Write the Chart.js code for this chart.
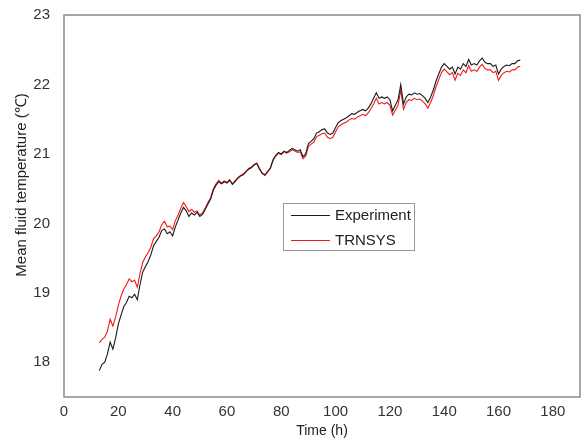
<!DOCTYPE html>
<html>
<head>
<meta charset="utf-8">
<script src="https://cdn.jsdelivr.net/npm/chart.js@4"></script>
<style>
  html, body { margin: 0; padding: 0; background: #fff; }
  #wrap { width: 582px; height: 439px; }
</style>
</head>
<body>
<div id="wrap"><canvas id="chart" width="582" height="439"></canvas></div>
<script>
// hourly readings, first one at t = 13 h
const startHour = 13;

const experiment = [
  17.88, 17.97, 18.00, 18.12, 18.29, 18.19, 18.35, 18.55, 18.68, 18.80,
  18.86, 18.95, 18.93, 18.98, 18.90, 19.12, 19.30, 19.38, 19.45, 19.55,
  19.68, 19.74, 19.80, 19.90, 19.92, 19.85, 19.88, 19.82, 19.95, 20.05,
  20.15, 20.23, 20.18, 20.10, 20.15, 20.12, 20.16, 20.10, 20.13, 20.20,
  20.28, 20.35, 20.48, 20.55, 20.60, 20.57, 20.60, 20.58, 20.62, 20.56,
  20.60, 20.65, 20.68, 20.70, 20.74, 20.78, 20.80, 20.84, 20.86, 20.78,
  20.72, 20.70, 20.75, 20.80, 20.92, 20.98, 21.02, 21.00, 21.04, 21.02,
  21.05, 21.08, 21.06, 21.04, 21.06, 20.96, 21.00, 21.15, 21.18, 21.22,
  21.30, 21.32, 21.35, 21.36, 21.30, 21.28, 21.30, 21.38, 21.45, 21.48,
  21.50, 21.52, 21.55, 21.58, 21.57, 21.60, 21.62, 21.64, 21.62, 21.66,
  21.72, 21.80, 21.88, 21.80, 21.82, 21.80, 21.82, 21.78, 21.62, 21.70,
  21.78, 22.00, 21.72, 21.82, 21.86, 21.85, 21.88, 21.86, 21.87, 21.84,
  21.80, 21.74, 21.82, 21.92, 22.05, 22.15, 22.25, 22.30, 22.26, 22.22,
  22.25, 22.15, 22.25, 22.22, 22.30, 22.26, 22.36, 22.28, 22.30, 22.28,
  22.34, 22.38, 22.32, 22.30, 22.30, 22.26, 22.28, 22.15, 22.22, 22.26,
  22.28, 22.27, 22.30, 22.30, 22.34, 22.35
];

const trnsys = [
  18.28, 18.33, 18.36, 18.45, 18.62, 18.52, 18.65, 18.82, 18.95, 19.05,
  19.12, 19.20, 19.16, 19.18, 19.08, 19.28, 19.44, 19.52, 19.58, 19.66,
  19.78, 19.82, 19.88, 19.98, 20.03, 19.95, 19.96, 19.91, 20.04, 20.12,
  20.22, 20.30, 20.24, 20.17, 20.20, 20.16, 20.18, 20.12, 20.15, 20.22,
  20.30, 20.37, 20.50, 20.57, 20.62, 20.58, 20.61, 20.59, 20.63, 20.57,
  20.61, 20.66, 20.69, 20.71, 20.75, 20.79, 20.81, 20.85, 20.87, 20.79,
  20.72, 20.69, 20.74, 20.79, 20.91, 20.97, 21.01, 20.99, 21.03, 21.01,
  21.03, 21.06, 21.04, 21.02, 21.03, 20.93, 20.97, 21.11, 21.14, 21.17,
  21.25, 21.27, 21.29, 21.30, 21.24, 21.22, 21.24, 21.32, 21.39, 21.42,
  21.44, 21.46, 21.49, 21.51, 21.50, 21.53, 21.55, 21.57, 21.55, 21.59,
  21.65, 21.72, 21.80, 21.72, 21.74, 21.72, 21.74, 21.70, 21.56, 21.63,
  21.70, 21.92, 21.64, 21.74, 21.78, 21.77, 21.80, 21.78, 21.79, 21.76,
  21.72, 21.66, 21.74, 21.84, 21.97, 22.07, 22.17, 22.22, 22.18, 22.14,
  22.17, 22.06, 22.16, 22.13, 22.21, 22.17, 22.27, 22.19, 22.21, 22.19,
  22.25, 22.29, 22.23, 22.21, 22.21, 22.17, 22.19, 22.06, 22.13, 22.17,
  22.19, 22.18, 22.21, 22.21, 22.25, 22.26
];

const xTicks = [0, 20, 40, 60, 80, 100, 120, 140, 160, 180];
const yTicks = [18, 19, 20, 21, 22, 23];

const toPoints = arr => arr.map((v, i) => ({ x: startHour + i, y: v }));

const FONT = '"Liberation Sans", Arial, sans-serif';
const axisColor = '#8a8a8a';

// box round the plot, axis titles and the legend inside the plot
const decor = {
  id: 'decor',
  afterDraw(chart) {
    const { ctx, chartArea: a } = chart;
    ctx.save();
    ctx.strokeStyle = axisColor;
    ctx.lineWidth = 1.5;
    ctx.strokeRect(a.left, a.top, a.right - a.left, a.bottom - a.top);

    ctx.fillStyle = '#222';
    ctx.font = '14px ' + FONT;
    ctx.textAlign = 'center';
    ctx.textBaseline = 'middle';
    ctx.fillText('Time (h)', (a.left + a.right) / 2, 431);

    ctx.save();
    ctx.translate(22, 185);
    ctx.rotate(-Math.PI / 2);
    ctx.font = '15px ' + FONT;
    ctx.fillText('Mean fluid temperature (℃)', 0, 0);
    ctx.restore();

    // legend
    const bx = 283, by = 203, bw = 131, bh = 47;
    ctx.fillStyle = '#fff';
    ctx.fillRect(bx, by, bw, bh);
    ctx.strokeStyle = '#999';
    ctx.lineWidth = 1;
    ctx.strokeRect(bx + 0.5, by + 0.5, bw, bh);
    ctx.textAlign = 'left';
    ctx.font = '15px ' + FONT;
    chart.data.datasets.forEach((ds, i) => {
      const y = 215 + i * 25;
      ctx.strokeStyle = ds.borderColor;
      ctx.lineWidth = 1;
      ctx.beginPath();
      ctx.moveTo(291, y + 0.5);
      ctx.lineTo(330, y + 0.5);
      ctx.stroke();
      ctx.fillStyle = '#222';
      ctx.fillText(ds.label, 335, y + 1);
    });
    ctx.restore();
  }
};

new Chart(document.getElementById('chart'), {
  type: 'line',
  data: {
    datasets: [
      { label: 'Experiment', data: toPoints(experiment), borderColor: '#1a1a1a', borderWidth: 1.1, pointRadius: 0, tension: 0 },
      { label: 'TRNSYS', data: toPoints(trnsys), borderColor: '#f01818', borderWidth: 1.1, pointRadius: 0, tension: 0 }
    ]
  },
  options: {
    responsive: false,
    animation: false,
    layout: { padding: { top: 15, right: 2, left: 0, bottom: 0 } },
    plugins: { legend: { display: false }, tooltip: { enabled: false } },
    scales: {
      x: {
        type: 'linear',
        min: 0,
        max: 190,
        afterBuildTicks: s => { s.ticks = xTicks.map(v => ({ value: v })); },
        afterFit: s => { s.height = 42; },
        grid: { display: false },
        border: { display: false },
        ticks: { color: '#333', font: { family: FONT, size: 15 }, padding: -2, maxRotation: 0 }
      },
      y: {
        min: 17.5,
        max: 23,
        afterBuildTicks: s => { s.ticks = yTicks.map(v => ({ value: v })); },
        afterFit: s => { s.width = 64; },
        grid: { display: false },
        border: { display: false },
        ticks: { color: '#333', font: { family: FONT, size: 15 }, padding: 6 }
      }
    }
  },
  plugins: [decor]
});
</script>
</body>
</html>
